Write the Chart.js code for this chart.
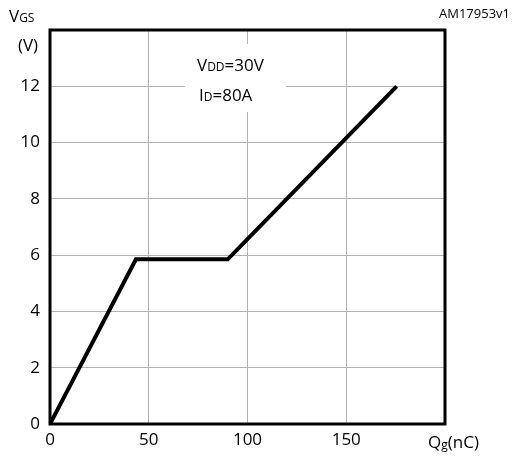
<!DOCTYPE html>
<html><head><meta charset="utf-8">
<script src="https://cdn.jsdelivr.net/npm/chart.js@4.4.1/dist/chart.umd.min.js"></script>
<style>html,body{margin:0;padding:0;background:#fff}#wrap{width:514px;height:457px}</style>
</head><body><div id="wrap"><canvas id="c" width="514" height="457"></canvas></div>
<script>
const qgValues = [0, 43.5, 90, 175.5];
const vgsValues = [0, 5.85, 5.85, 12.0];
const xTicks = [0, 50, 100, 150];
const yTicks = [0, 2, 4, 6, 8, 10, 12];
const FONT = '"Open Sans", "Liberation Sans", sans-serif';

function runs(ctx, x, y, parts, align) {
  let total = 0;
  parts.forEach(p => { ctx.font = p[1] + 'px ' + FONT; total += ctx.measureText(p[0]).width; });
  let cx = align === 'right' ? x - total : (align === 'center' ? x - total / 2 : x);
  ctx.textAlign = 'left'; ctx.textBaseline = 'alphabetic';
  parts.forEach(p => { ctx.font = p[1] + 'px ' + FONT; ctx.fillText(p[0], cx, y + (p[2] || 0)); cx += ctx.measureText(p[0]).width; });
}

const deco = {
  id: 'deco',
  beforeDatasetsDraw(chart) {
    const ctx = chart.ctx;
    ctx.save();
    ctx.fillStyle = '#fff';
    ctx.fillRect(185, 44, 101, 68);
    ctx.fillStyle = '#000';
    runs(ctx, 197, 71, [['V', 17], ['DD', 12], ['=30V', 17]]);
    runs(ctx, 199, 101, [['I', 17], ['D', 12], ['=80A', 17]]);
    ctx.restore();
  },
  afterDraw(chart) {
    const ctx = chart.ctx;
    const a = chart.chartArea;
    ctx.save();
    ctx.strokeStyle = '#000';
    ctx.lineWidth = 3;
    ctx.strokeRect(a.left, a.top, a.right - a.left, a.bottom - a.top);
    ctx.fillStyle = '#000';
    runs(ctx, 9, 22, [['V', 17], ['GS', 12]]);
    runs(ctx, 28, 51, [['(V)', 17]], 'center');
    runs(ctx, 510, 18, [['AM17953v1', 13]], 'right');
    runs(ctx, 428, 448, [['Q', 17], ['g', 12, 1], ['(nC)', 17]]);
    ctx.restore();
  }
};

new Chart(document.getElementById('c'), {
  type: 'line',
  data: {
    datasets: [{
      data: qgValues.map((q, i) => ({ x: q, y: vgsValues[i] })),
      borderColor: '#000',
      borderWidth: 4,
      pointRadius: 0,
      tension: 0,
      fill: false,
      borderJoinStyle: 'miter'
    }]
  },
  options: {
    responsive: false,
    animation: false,
    devicePixelRatio: 1,
    layout: { padding: { left: 0, right: 69, top: 30, bottom: 0 } },
    plugins: { legend: { display: false }, tooltip: { enabled: false } },
    scales: {
      x: {
        type: 'linear', min: 0, max: 200,
        afterBuildTicks: s => { s.ticks = xTicks.concat([200]).map(v => ({ value: v })); },
        ticks: { color: '#000', font: { family: FONT, size: 17 }, padding: 6, maxRotation: 0,
          callback: v => xTicks.includes(v) ? String(v) : '' },
        grid: { color: '#b3b3b3', lineWidth: 1, drawTicks: false },
        border: { display: false },
        afterFit: s => { s.height = 33; }
      },
      y: {
        type: 'linear', min: 0, max: 14,
        afterBuildTicks: s => { s.ticks = yTicks.concat([14]).map(v => ({ value: v })); },
        ticks: { color: '#000', font: { family: FONT, size: 17 }, padding: 10,
          callback: v => yTicks.includes(v) ? String(v) : '' },
        grid: { color: '#b3b3b3', lineWidth: 1, drawTicks: false },
        border: { display: false },
        afterFit: s => { s.width = 50; }
      }
    }
  },
  plugins: [deco]
});
</script></body></html>
